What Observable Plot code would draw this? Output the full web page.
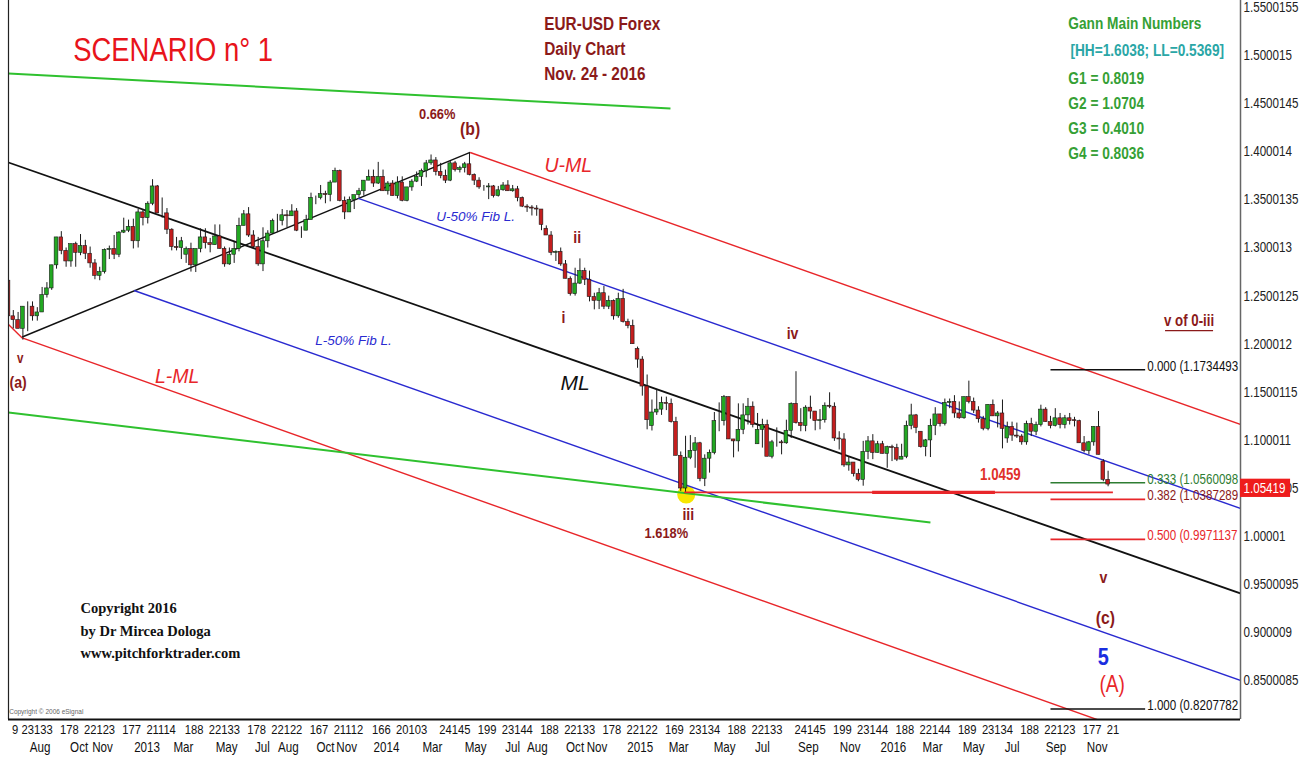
<!DOCTYPE html>
<html><head><meta charset="utf-8">
<script src="https://cdn.jsdelivr.net/npm/d3@7"></script>
<script src="https://cdn.jsdelivr.net/npm/@observablehq/plot@0.6"></script>
<style>body{margin:0;background:#fff;overflow:hidden}</style>
</head><body><div id="chart"></div>
<script>
// ---- weekly EUR-USD candles [weekStart, open, high, low, close] ----
const candles2012 = [
["2012-07-02",1.2660,1.2690,1.2260,1.2290],["2012-07-09",1.2290,1.2350,1.2160,1.2250],
["2012-07-16",1.2250,1.2330,1.2160,1.2160],["2012-07-23",1.2160,1.2390,1.2042,1.2390],
["2012-07-30",1.2390,1.2440,1.2130,1.2390],["2012-08-06",1.2390,1.2440,1.2240,1.2290],
["2012-08-13",1.2290,1.2380,1.2240,1.2330],["2012-08-20",1.2330,1.2590,1.2330,1.2510],
["2012-08-27",1.2510,1.2640,1.2480,1.2580],["2012-09-03",1.2580,1.2820,1.2560,1.2820],
["2012-09-10",1.2820,1.3110,1.2780,1.3110],["2012-09-17",1.3110,1.3170,1.2930,1.2970],
["2012-09-24",1.2970,1.3000,1.2800,1.2860],["2012-10-01",1.2860,1.3040,1.2800,1.3040],
["2012-10-08",1.3040,1.3060,1.2800,1.2950],["2012-10-15",1.2950,1.3140,1.2920,1.3020],
["2012-10-22",1.3020,1.3080,1.2880,1.2940],["2012-10-29",1.2940,1.3010,1.2790,1.2840],
["2012-11-05",1.2840,1.2880,1.2670,1.2710],["2012-11-12",1.2710,1.2800,1.2660,1.2750],
["2012-11-19",1.2750,1.2990,1.2730,1.2980],["2012-11-26",1.2980,1.3020,1.2880,1.2990],
["2012-12-03",1.2990,1.3130,1.2880,1.2930],["2012-12-10",1.2930,1.3170,1.2900,1.3160],
["2012-12-17",1.3160,1.3310,1.3150,1.3180],["2012-12-24",1.3180,1.3290,1.3160,1.3220],
["2012-12-31",1.3220,1.3300,1.2990,1.3070]];
const candles2013 = [
["2013-01-07",1.3070,1.3400,1.3000,1.3370],["2013-01-14",1.3370,1.3400,1.3230,1.3310],
["2013-01-21",1.3310,1.3480,1.3250,1.3460],["2013-01-28",1.3460,1.3710,1.3440,1.3640],
["2013-02-04",1.3640,1.3650,1.3360,1.3360],["2013-02-11",1.3360,1.3520,1.3310,1.3360],
["2013-02-18",1.3360,1.3410,1.3140,1.3190],["2013-02-25",1.3190,1.3200,1.2970,1.3010],
["2013-03-04",1.3010,1.3110,1.2970,1.3000],["2013-03-11",1.3000,1.3110,1.2880,1.3070],
["2013-03-18",1.2930,1.3010,1.2840,1.2990],["2013-03-25",1.2990,1.3050,1.2750,1.2820],
["2013-04-01",1.2820,1.2870,1.2745,1.2990],["2013-04-08",1.2990,1.3200,1.2950,1.3110],
["2013-04-15",1.3110,1.3200,1.2990,1.3050],["2013-04-22",1.3050,1.3100,1.2950,1.3030],
["2013-04-29",1.3030,1.3240,1.3030,1.3120],["2013-05-06",1.3120,1.3240,1.2990,1.2990],
["2013-05-13",1.2990,1.3010,1.2800,1.2830],["2013-05-20",1.2830,1.3000,1.2820,1.2930],
["2013-05-27",1.2930,1.3060,1.2840,1.2990],["2013-06-03",1.2990,1.3310,1.2960,1.3230],
["2013-06-10",1.3230,1.3390,1.3230,1.3350],["2013-06-17",1.3350,1.3420,1.3110,1.3130],
["2013-06-24",1.3130,1.3180,1.2990,1.3010],["2013-07-01",1.3010,1.3110,1.2810,1.2830],
["2013-07-08",1.2830,1.3210,1.2755,1.3070],["2013-07-15",1.3070,1.3180,1.3000,1.3150],
["2013-07-22",1.3150,1.3300,1.3140,1.3280],["2013-07-29",1.3280,1.3350,1.3160,1.3280],
["2013-08-05",1.3280,1.3400,1.3230,1.3340],["2013-08-12",1.3340,1.3390,1.3210,1.3330],
["2013-08-19",1.3330,1.3450,1.3330,1.3380],["2013-08-26",1.3380,1.3410,1.3170,1.3180],
["2013-09-02",1.3180,1.3220,1.3100,1.3180],["2013-09-09",1.3180,1.3340,1.3180,1.3290],
["2013-09-16",1.3290,1.3570,1.3320,1.3520],["2013-09-23",1.3520,1.3540,1.3450,1.3520],
["2013-09-30",1.3520,1.3650,1.3500,1.3560],["2013-10-07",1.3560,1.3590,1.3460,1.3550],
["2013-10-14",1.3550,1.3700,1.3480,1.3680],["2013-10-21",1.3680,1.3830,1.3680,1.3800],
["2013-10-28",1.3800,1.3810,1.3480,1.3490],["2013-11-04",1.3490,1.3530,1.3295,1.3370],
["2013-11-11",1.3370,1.3530,1.3370,1.3500],["2013-11-18",1.3500,1.3530,1.3400,1.3550],
["2013-11-25",1.3550,1.3620,1.3520,1.3590],["2013-12-02",1.3590,1.3700,1.3540,1.3700],
["2013-12-09",1.3700,1.3810,1.3700,1.3740],["2013-12-16",1.3740,1.3810,1.3630,1.3670],
["2013-12-23",1.3670,1.3890,1.3660,1.3740],["2013-12-30",1.3740,1.3810,1.3590,1.3590]];
const candles2014 = [
["2014-01-06",1.3590,1.3690,1.3550,1.3670],["2014-01-13",1.3670,1.3700,1.3540,1.3540],
["2014-01-20",1.3540,1.3740,1.3510,1.3680],["2014-01-27",1.3680,1.3740,1.3480,1.3490],
["2014-02-03",1.3490,1.3630,1.3480,1.3630],["2014-02-10",1.3630,1.3710,1.3590,1.3690],
["2014-02-17",1.3690,1.3790,1.3680,1.3740],["2014-02-24",1.3740,1.3820,1.3640,1.3800],
["2014-03-03",1.3800,1.3910,1.3730,1.3880],["2014-03-10",1.3880,1.3967,1.3860,1.3910],
["2014-03-17",1.3910,1.3940,1.3750,1.3790],["2014-03-24",1.3790,1.3880,1.3720,1.3750],
["2014-03-31",1.3750,1.3810,1.3670,1.3700],["2014-04-07",1.3700,1.3900,1.3690,1.3880],
["2014-04-14",1.3880,1.3900,1.3790,1.3810],["2014-04-21",1.3810,1.3850,1.3780,1.3830],
["2014-04-28",1.3830,1.3890,1.3780,1.3870],["2014-05-05",1.3870,1.3993,1.3750,1.3760],
["2014-05-12",1.3760,1.3770,1.3650,1.3700],["2014-05-19",1.3700,1.3730,1.3610,1.3630],
["2014-05-26",1.3630,1.3650,1.3590,1.3630],["2014-06-02",1.3630,1.3670,1.3503,1.3640],
["2014-06-09",1.3640,1.3650,1.3520,1.3540],["2014-06-16",1.3540,1.3640,1.3530,1.3600],
["2014-06-23",1.3600,1.3680,1.3590,1.3650],["2014-06-30",1.3650,1.3700,1.3590,1.3590],
["2014-07-07",1.3590,1.3650,1.3580,1.3610],["2014-07-14",1.3610,1.3640,1.3480,1.3520],
["2014-07-21",1.3520,1.3530,1.3420,1.3430],["2014-07-28",1.3430,1.3450,1.3370,1.3420],
["2014-08-04",1.3420,1.3440,1.3333,1.3410],["2014-08-11",1.3410,1.3440,1.3330,1.3400],
["2014-08-18",1.3400,1.3400,1.3180,1.3240],["2014-08-25",1.3200,1.3230,1.3130,1.3130],
["2014-09-01",1.3130,1.3170,1.2920,1.2950],["2014-09-08",1.2950,1.2970,1.2860,1.2960],
["2014-09-15",1.2960,1.3000,1.2810,1.2830],["2014-09-22",1.2830,1.2870,1.2680,1.2680],
["2014-09-29",1.2680,1.2700,1.2500,1.2520],["2014-10-06",1.2520,1.2790,1.2500,1.2630],
["2014-10-13",1.2630,1.2887,1.2620,1.2760],["2014-10-20",1.2760,1.2790,1.2610,1.2670],
["2014-10-27",1.2670,1.2760,1.2440,1.2490],["2014-11-03",1.2490,1.2530,1.2357,1.2450],
["2014-11-10",1.2450,1.2580,1.2360,1.2530],["2014-11-17",1.2530,1.2600,1.2360,1.2390],
["2014-11-24",1.2390,1.2500,1.2360,1.2450],["2014-12-01",1.2450,1.2460,1.2250,1.2290],
["2014-12-08",1.2290,1.2530,1.2270,1.2470],["2014-12-15",1.2470,1.2570,1.2220,1.2230],
["2014-12-22",1.2230,1.2260,1.2160,1.2190],["2014-12-29",1.2190,1.2250,1.2000,1.2000]];
const candles2015 = [
["2015-01-05",1.1950,1.1970,1.1750,1.1840],["2015-01-12",1.1840,1.1870,1.1460,1.1560],
["2015-01-19",1.1560,1.1680,1.1110,1.1210],["2015-01-26",1.1150,1.1420,1.1098,1.1290],
["2015-02-02",1.1290,1.1530,1.1260,1.1320],["2015-02-09",1.1320,1.1450,1.1260,1.1390],
["2015-02-16",1.1390,1.1450,1.1310,1.1380],["2015-02-23",1.1380,1.1430,1.1180,1.1190],
["2015-03-02",1.1190,1.1240,1.0840,1.0840],["2015-03-09",1.0840,1.0880,1.0470,1.0500],
["2015-03-16",1.0500,1.1043,1.0462,1.0820],["2015-03-23",1.0820,1.1050,1.0800,1.0890],
["2015-03-30",1.0890,1.1030,1.0710,1.0970],["2015-04-06",1.0970,1.0980,1.0570,1.0600],
["2015-04-13",1.0600,1.0850,1.0520,1.0810],["2015-04-20",1.0810,1.0900,1.0660,1.0870],
["2015-04-27",1.0870,1.1290,1.0850,1.1200],["2015-05-04",1.1200,1.1390,1.1090,1.1200],
["2015-05-11",1.1200,1.1467,1.1150,1.1450],["2015-05-18",1.1450,1.1450,1.1010,1.1010],
["2015-05-25",1.1010,1.1010,1.0819,1.0990],["2015-06-01",1.0990,1.1380,1.0880,1.1110],
["2015-06-08",1.1110,1.1380,1.1060,1.1260],["2015-06-15",1.1260,1.1436,1.1160,1.1350],
["2015-06-22",1.1350,1.1400,1.1130,1.1160],["2015-06-29",1.0960,1.1280,1.0960,1.1110],
["2015-07-06",1.1110,1.1220,1.0920,1.1160],["2015-07-13",1.1160,1.1210,1.0830,1.0830],
["2015-07-20",1.0830,1.1000,1.0808,1.0980],["2015-07-27",1.0980,1.1130,1.0930,1.0980],
["2015-08-03",1.0980,1.1000,1.0850,1.0970],["2015-08-10",1.0970,1.1210,1.0960,1.1100],
["2015-08-17",1.1100,1.1390,1.1020,1.1380],["2015-08-24",1.1380,1.1714,1.1170,1.1180],
["2015-08-31",1.1180,1.1330,1.1090,1.1150],["2015-09-07",1.1150,1.1360,1.1090,1.1340],
["2015-09-14",1.1340,1.1460,1.1220,1.1300],["2015-09-21",1.1300,1.1300,1.1100,1.1200],
["2015-09-28",1.1200,1.1320,1.1110,1.1210],["2015-10-05",1.1210,1.1390,1.1180,1.1360],
["2015-10-12",1.1360,1.1495,1.1330,1.1350],["2015-10-19",1.1350,1.1390,1.0990,1.1020],
["2015-10-26",1.1020,1.1090,1.0900,1.1010],["2015-11-02",1.1010,1.1070,1.0720,1.0740],
["2015-11-09",1.0740,1.0830,1.0680,1.0770],["2015-11-16",1.0770,1.0770,1.0620,1.0650],
["2015-11-23",1.0650,1.0700,1.0570,1.0590],["2015-11-30",1.0590,1.0990,1.0524,1.0880],
["2015-12-07",1.0880,1.1040,1.0800,1.0990],["2015-12-14",1.0990,1.1060,1.0800,1.0870],
["2015-12-21",1.0870,1.0990,1.0870,1.0960],["2015-12-28",1.0960,1.0990,1.0860,1.0860]];
const candles2016 = [
["2016-01-04",1.0860,1.0940,1.0710,1.0930],["2016-01-11",1.0930,1.0950,1.0780,1.0920],
["2016-01-18",1.0920,1.0960,1.0780,1.0800],["2016-01-25",1.0800,1.0960,1.0800,1.0830],
["2016-02-01",1.0830,1.1200,1.0810,1.1150],["2016-02-08",1.1150,1.1376,1.1110,1.1260],
["2016-02-15",1.1260,1.1270,1.1070,1.1130],["2016-02-22",1.1090,1.1090,1.0920,1.0930],
["2016-02-29",1.0930,1.1010,1.0830,1.1000],["2016-03-07",1.1000,1.1220,1.0822,1.1150],
["2016-03-14",1.1150,1.1340,1.1050,1.1270],["2016-03-21",1.1270,1.1270,1.1140,1.1170],
["2016-03-28",1.1170,1.1430,1.1150,1.1390],["2016-04-04",1.1390,1.1430,1.1330,1.1400],
["2016-04-11",1.1400,1.1465,1.1230,1.1280],["2016-04-18",1.1280,1.1400,1.1220,1.1230],
["2016-04-25",1.1230,1.1450,1.1220,1.1450],["2016-05-02",1.1450,1.1616,1.1380,1.1400],
["2016-05-09",1.1400,1.1440,1.1280,1.1310],["2016-05-16",1.1310,1.1350,1.1180,1.1220],
["2016-05-23",1.1220,1.1250,1.1100,1.1120],["2016-05-30",1.1120,1.1370,1.1100,1.1370],
["2016-06-06",1.1370,1.1420,1.1250,1.1250],["2016-06-13",1.1250,1.1300,1.1130,1.1280],
["2016-06-20",1.1280,1.1420,1.0912,1.1120],["2016-06-27",1.1020,1.1190,1.0970,1.1140],
["2016-07-04",1.1140,1.1190,1.0990,1.1050],["2016-07-11",1.1050,1.1180,1.1020,1.1040],
["2016-07-18",1.1040,1.1060,1.0950,1.0980],["2016-07-25",1.0980,1.1200,1.0950,1.1170],
["2016-08-01",1.1170,1.1230,1.1040,1.1090],["2016-08-08",1.1090,1.1190,1.1050,1.1160],
["2016-08-15",1.1160,1.1366,1.1140,1.1320],["2016-08-22",1.1320,1.1340,1.1190,1.1190],
["2016-08-29",1.1190,1.1250,1.1120,1.1150],["2016-09-05",1.1150,1.1330,1.1140,1.1230],
["2016-09-12",1.1230,1.1280,1.1120,1.1160],["2016-09-19",1.1160,1.1260,1.1120,1.1230],
["2016-09-26",1.1230,1.1280,1.1160,1.1200],["2016-10-03",1.1210,1.1240,1.1140,1.1200],
["2016-10-10",1.1200,1.1210,1.0970,1.0970],["2016-10-17",1.0970,1.1040,1.0870,1.0890],
["2016-10-24",1.0890,1.0990,1.0850,1.0980],["2016-10-31",1.0980,1.1140,1.0940,1.1140],
["2016-11-07",1.1140,1.1300,1.0850,1.0850],["2016-11-14",1.0780,1.0800,1.0570,1.0590],
["2016-11-21",1.0590,1.0680,1.0518,1.0541]];

// ---- axis ticks ----
const yTicks = [1.55,1.50,1.45,1.40,1.35,1.30,1.25,1.20,1.15,1.10,1.05,1.00,0.95,0.90,0.85];
const yTickLabels = ["1.5500155","1.500015","1.4500145","1.400014","1.3500135","1.300013","1.2500125","1.200012","1.1500115","1.100011","1.0500105","1.00001","0.9500095","0.900009","0.8500085"];
const dayTickDates = ["2012-07-09","2012-07-23","2012-09-17","2012-10-22","2012-12-17","2013-01-21","2013-03-18","2013-04-22","2013-06-17","2013-07-22","2013-09-16","2013-10-21","2013-12-16","2014-01-20","2014-03-24","2014-05-19","2014-06-23","2014-08-18","2014-09-22","2014-11-17","2014-12-22","2015-02-16","2015-03-23","2015-05-18","2015-06-22","2015-08-24","2015-10-19","2015-11-23","2016-01-18","2016-02-22","2016-04-18","2016-05-23","2016-07-18","2016-08-22","2016-10-17","2016-11-21"];
const dayTickLabels = ["9","23133","178","22123","177","21114","188","22133","178","22122","167","21112","166","20103","24145","199","23144","188","22133","178","22122","169","23134","188","22133","24145","199","23144","188","22144","189","23134","188","22123","177","21"];
const monthTickDates = ["2012-08-19","2012-10-15","2012-11-18","2013-01-22","2013-03-16","2013-05-18","2013-07-09","2013-08-16","2013-10-09","2013-11-09","2014-01-06","2014-03-14","2014-05-16","2014-07-09","2014-08-14","2014-10-08","2014-11-09","2015-01-11","2015-03-08","2015-05-14","2015-07-08","2015-09-13","2015-11-13","2016-01-15","2016-03-12","2016-05-11","2016-07-06","2016-09-08","2016-11-07"];
const monthTickLabels = ["Aug","Oct","Nov","2013","Mar","May","Jul","Aug","Oct","Nov","2014","Mar","May","Jul","Aug","Oct","Nov","2015","Mar","May","Jul","Sep","Nov","2016","Mar","May","Jul","Sep","Nov"];

// ---- drawn lines (date, price endpoints) ----
const forkLines = [
 {name:"ML",     d1:"2012-07-04", p1:1.3889, d2:"2017-06-04", p2:0.9409},
 {name:"handle", d1:"2012-07-24", p1:1.2075, d2:"2014-05-08", p2:1.3993},
 {name:"U-ML",   d1:"2014-05-08", p1:1.3993, d2:"2017-06-04", p2:1.1165},
 {name:"L-ML",   d1:"2012-07-24", p1:1.2065, d2:"2017-06-04", p2:0.7569},
 {name:"L-pre",  d1:"2012-07-04", p1:1.2205, d2:"2012-07-24", p2:1.2065},
 {name:"U-50",   d1:"2013-11-26", p1:1.3515, d2:"2017-06-04", p2:1.0292},
 {name:"L-50",   d1:"2013-01-03", p1:1.2558, d2:"2017-06-04", p2:0.8504},
 {name:"G-up",   d1:"2012-07-04", p1:1.4814, d2:"2015-02-24", p2:1.4450},
 {name:"G-low",  d1:"2012-07-04", p1:1.1290, d2:"2016-03-09", p2:1.0147},
 {name:"S1",     d1:"2015-03-16", p1:1.0459, d2:"2016-11-30", p2:1.0459},
 {name:"S1bold", d1:"2015-12-15", p1:1.0459, d2:"2016-06-11", p2:1.0459}
];
const fibLevels = [
 {level:"0.000", value:1.1734493},
 {level:"0.333", value:1.0560098},
 {level:"0.382", value:1.0387289},
 {level:"0.500", value:0.9971137},
 {level:"1.000", value:0.8207782}
];
const fibStart = "2016-08-31", fibEnd = "2017-01-16", fibLabelAt = "2017-01-19";
const lastPrice = 1.05419;
const highlight = [{date:"2015-03-19", price:1.0437}];

// ---- annotations ----
const waveBig = [{text:"(b)", date:"2014-05-08", price:1.4242},{text:"(c)", date:"2016-11-19", price:0.9159}];
const waveSmall = [
 {text:"ii", date:"2014-10-11", price:1.3109},{text:"i", date:"2014-09-21", price:1.2278},
 {text:"iv", date:"2015-08-21", price:1.2111},{text:"iii", date:"2015-03-22", price:1.0230},
 {text:"(a)", date:"2012-07-18", price:1.1602},{text:"v", date:"2016-11-16", price:0.9575}];
const waveTiny = [{text:"v", date:"2012-07-21", price:1.1851}];
const pctLabels = [{text:"0.66%", date:"2014-03-21", price:1.4388},{text:"1.618%", date:"2015-02-18", price:1.0032}];
const redItalic = [{text:"U-ML", date:"2014-09-28", price:1.3858},{text:"L-ML", date:"2013-03-07", price:1.1664}];
const blackItalic = [{text:"ML", date:"2014-10-08", price:1.1591}];
const blueItalic = [{text:"U-50% Fib L.", date:"2014-05-16", price:1.3327},{text:"L-50% Fib L.", date:"2013-11-19", price:1.2038}];

const C = {red:"#e8262a", maroon:"#8b1a1a", blue:"#2a2ad0", green:"#2fc12f", black:"#111"};
const lineStyle = {
 "ML":{c:C.black,w:1.8},"handle":{c:C.black,w:1.4},"U-ML":{c:C.red,w:1.4},"L-ML":{c:C.red,w:1.4},"L-pre":{c:C.red,w:1.4},
 "U-50":{c:C.blue,w:1.4},"L-50":{c:C.blue,w:1.4},"G-up":{c:C.green,w:2},"G-low":{c:C.green,w:2},
 "S1":{c:C.red,w:1.8},"S1bold":{c:C.red,w:3.2}};
const fibStyle = {"0.000":{line:C.black,text:C.black},"0.333":{line:"#2e7d32",text:"#2e7d32"},"0.382":{line:C.red,text:C.maroon},"0.500":{line:C.red,text:C.red},"1.000":{line:C.black,text:C.black}};

const NARROW = "Liberation Sans";                      // condensed afterwards to mimic Arial Narrow
const REG = "Liberation Sans, Arial, sans-serif";
const SERIF = "Liberation Serif, DejaVu Serif, serif";
const SQUEEZE = 0.83;
const DAY = 864e5;
const P = s => new Date(s + "T00:00:00Z");
const xStart = P("2012-07-04"), xEnd = P("2017-06-04");

const candles = [candles2012,candles2013,candles2014,candles2015,candles2016].flat()
  .map(([w,o,h,l,c]) => ({date:new Date(+P(w) + 2*DAY), o, h, l, c, up:c>=o}));

const A = (arr, opts) => Plot.text(arr, {x:d=>P(d.date), y:"price", text:"text", fontFamily:NARROW, ...opts});
const T = (str, date, price, opts) => Plot.text([str], {x:()=>P(date), y:()=>price, text:d=>d, fontFamily:NARROW, ...opts});

const chart = Plot.plot({
  width:1314, height:758,
  marginLeft:8, marginRight:74, marginTop:0, marginBottom:39,
  x:{type:"utc", domain:[xStart,xEnd], axis:null},
  y:{domain:[0.80988,1.55728], axis:null},
  color:{type:"identity"},
  style:{background:"#fff", overflow:"visible"},
  marks:[
    Plot.dot(highlight, {x:d=>P(d.date), y:"price", r:9, fill:"#f7e600"}),
    Plot.link(forkLines, {x1:d=>P(d.d1), y1:"p1", x2:d=>P(d.d2), y2:"p2",
      stroke:d=>lineStyle[d.name].c, strokeWidth:d=>lineStyle[d.name].w, clip:true}),
    Plot.link(fibLevels, {x1:()=>P(fibStart), x2:()=>P(fibEnd), y1:"value", y2:"value",
      stroke:d=>fibStyle[d.level].line, strokeWidth:1.6}),
    Plot.ruleX(candles, {x:"date", y1:"l", y2:"h", stroke:"#1a1a1a", strokeWidth:1, clip:true}),
    Plot.rect(candles, {x1:d=>new Date(+d.date - 2.7*DAY), x2:d=>new Date(+d.date + 2.7*DAY),
      y1:"o", y2:"c", fill:d=>d.up?"#22a822":"#c41e1e", stroke:"#1a1a1a", strokeWidth:0.6, clip:true}),
    Plot.text(fibLevels, {x:()=>P(fibLabelAt), y:"value", text:d=>`${d.level} (${d.value.toFixed(7)}`,
      textAnchor:"start", lineAnchor:"bottom", dy:1, fill:d=>fibStyle[d.level].text,
      fontFamily:NARROW, fontSize:14, clip:true}),
    // frame lines
    Plot.ruleX([xStart], {stroke:"#222", strokeWidth:1.2}),
    Plot.ruleX([xEnd], {stroke:"#666", strokeWidth:1.5}),
    Plot.ruleY([0.80988], {stroke:"#111", strokeWidth:2.2}),
    // y-axis labels
    Plot.text(yTicks, {y:d=>d, text:(d,i)=>yTickLabels[i], frameAnchor:"right", dx:3, textAnchor:"start",
      fontFamily:NARROW, fontSize:14, fill:"#222"}),
    Plot.rect([lastPrice], {x1:()=>xEnd, x2:()=>new Date(+xEnd + 73*DAY), y1:d=>d-0.0135, y2:d=>d+0.0055, fill:"#ee1c1c"}),
    Plot.text([lastPrice], {y:d=>d, text:d=>d.toFixed(5), frameAnchor:"right", dx:3, dy:4, textAnchor:"start",
      fontFamily:NARROW, fontSize:14, fill:"#fff"}),
    // x-axis labels
    Plot.text(dayTickDates, {x:d=>P(d), text:(d,i)=>dayTickLabels[i], frameAnchor:"bottom", dy:14, textAnchor:"start",
      fontFamily:NARROW, fontSize:13.5, fill:"#111"}),
    Plot.text(monthTickDates, {x:d=>P(d), text:(d,i)=>monthTickLabels[i], frameAnchor:"bottom", dy:32, textAnchor:"middle",
      fontFamily:NARROW, fontSize:14, fill:"#111"}),
    // titles
    T("SCENARIO n° 1", "2013-03-01", 1.5053, {fontSize:33, fill:"#e8141b"}),
    T("EUR-USD Forex\nDaily Chart\nNov. 24 - 2016", "2014-08-24", 1.5089, {textAnchor:"start",
      lineHeight:1.36, fontSize:18.5, fontWeight:"bold", fill:C.maroon}),
    T("Gann Main Numbers", "2016-09-26", 1.5334, {textAnchor:"start", fontSize:16.5, fontWeight:"bold", fill:"#35a035"}),
    T("[HH=1.6038; LL=0.5369]", "2016-09-29", 1.5053, {textAnchor:"start", fontSize:16.5, fontWeight:"bold", fill:"#2aa6a6"}),
    T("G1 = 0.8019\nG2 = 1.0704\nG3 = 0.4010\nG4 = 0.8036", "2016-09-26", 1.4398, {textAnchor:"start",
      lineHeight:1.53, fontSize:16.5, fontWeight:"bold", fill:"#35a035"}),
    // annotations
    A(waveBig, {fontSize:19, fontWeight:"bold", fill:C.maroon}),
    A(waveSmall, {fontSize:17, fontWeight:"bold", fill:C.maroon}),
    A(waveTiny, {fontSize:14, fontWeight:"bold", fill:C.maroon}),
    A(pctLabels, {fontSize:15.5, fontWeight:"bold", fill:C.maroon}),
    A(redItalic, {fontFamily:REG, fontSize:19.5, fontStyle:"italic", fill:C.red}),
    A(blackItalic, {fontFamily:REG, fontSize:21, fontStyle:"italic", fill:C.black}),
    A(blueItalic, {fontFamily:REG, fontSize:13.5, fontStyle:"italic", fill:C.blue}),
    T("1.0459", "2016-06-19", 1.0646, {fontSize:16, fontWeight:"bold", fill:"#e0302a"}),
    T("v of 0-iii", "2017-03-21", 1.2246, {fontSize:16, fontWeight:"bold", fill:C.maroon}),
    Plot.link([1.2142], {x1:()=>P("2017-02-14"), x2:()=>P("2017-04-25"), y1:d=>d, y2:d=>d, stroke:C.maroon, strokeWidth:1.3}),
    T("5", "2016-11-16", 0.8743, {fontSize:24, fontWeight:"bold", fill:"#1a2ee0"}),
    T("(A)", "2016-11-29", 0.8462, {fontSize:23, fill:"#e8262a"}),
    T("Copyright 2016\nby Dr Mircea Dologa\nwww.pitchforktrader.com", "2012-10-17", 0.9045, {fontFamily:SERIF,
      textAnchor:"start", lineHeight:1.55, fontSize:14.5, fontWeight:"bold", fill:"#111"}),
    T("Copyright © 2006 eSignal", "2012-07-05", 0.8182, {fontFamily:REG, textAnchor:"start", fontSize:6.5, fill:"#666"})
  ]
});
document.getElementById("chart").append(chart);

// condense the "narrow" texts horizontally around their anchor (no Arial Narrow installed)
for (const t of chart.querySelectorAll(`g[font-family='${NARROW}'] text`)) {
  let tr = t.getAttribute("transform") || "";
  const x = t.getAttribute("x");
  if (x != null && x.trim() !== "" && !isNaN(+x) && +x !== 0) {
    tr += ` translate(${+x},0)`;
    t.removeAttribute("x");
  }
  t.setAttribute("transform", `${tr} scale(${SQUEEZE},1)`.trim());
}
</script>
</body></html>
